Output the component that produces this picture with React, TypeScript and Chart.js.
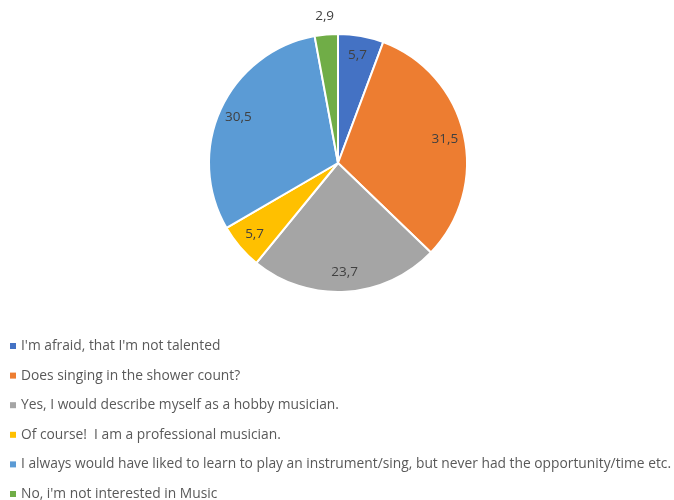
import React, { useEffect, useRef } from "react";
import { Chart, registerables } from "chart.js";

Chart.register(...registerables);

const categories: string[] = [
  "I'm afraid, that I'm not talented",
  "Does singing in the shower count?",
  "Yes, I would describe myself as a hobby musician.",
  "Of course!  I am a professional musician.",
  "I always would have liked to learn to play an instrument/sing, but never had the opportunity/time etc.",
  "No, i'm not interested in Music",
];
const values: number[] = [5.7, 31.5, 23.7, 5.7, 30.5, 2.9];
const valueLabels: string[] = ["5,7", "31,5", "23,7", "5,7", "30,5", "2,9"];
const colors: string[] = ["#4472C4", "#ED7D31", "#A5A5A5", "#FFC000", "#5B9BD5", "#70AD47"];

const FONT = "'Open Sans', sans-serif";

const labelPlugin = {
  id: "sliceLabels",
  afterDatasetsDraw(chart: any) {
    const ctx = chart.ctx;
    const meta = chart.getDatasetMeta(0);
    ctx.save();
    ctx.font = `13.5px ${FONT}`;
    ctx.fillStyle = "#404040";
    ctx.textAlign = "center";
    ctx.textBaseline = "middle";
    meta.data.forEach((arc: any, i: number) => {
      const { x, y, startAngle, endAngle, outerRadius } = arc.getProps(
        ["x", "y", "startAngle", "endAngle", "outerRadius"],
        true
      );
      const mid = (startAngle + endAngle) / 2;
      const v = values[i];
      const r = v < 4 ? outerRadius + 18 : outerRadius * 0.85;
      ctx.fillText(valueLabels[i], x + Math.cos(mid) * r, y + Math.sin(mid) * r);
    });
    ctx.restore();
  },
};

const legendPlugin = {
  id: "customLegend",
  afterDraw(chart: any) {
    const ctx = chart.ctx;
    ctx.save();
    ctx.font = `13.8px ${FONT}`;
    ctx.textBaseline = "middle";
    ctx.textAlign = "left";
    categories.forEach((c, i) => {
      const y = 346 + i * 29.6;
      ctx.fillStyle = colors[i];
      ctx.fillRect(10, y - 3, 6, 6);
      ctx.fillStyle = "#595959";
      ctx.fillText(c, 21, y);
    });
    ctx.restore();
  },
};

export default function App() {
  const ref = useRef<HTMLCanvasElement | null>(null);
  useEffect(() => {
    if (!ref.current) return;
    const chart = new Chart(ref.current, {
      type: "pie",
      data: {
        labels: categories,
        datasets: [
          {
            data: values,
            backgroundColor: colors,
            borderColor: "#ffffff",
            borderWidth: 2,
          },
        ],
      },
      options: {
        animation: false,
        responsive: false,
        devicePixelRatio: 1,
        layout: { padding: { top: 33, bottom: 207, left: 2, right: 0 } },
        plugins: {
          legend: { display: false },
          tooltip: { enabled: false },
        },
      },
      plugins: [labelPlugin, legendPlugin],
    });
    return () => chart.destroy();
  }, []);
  return (
    <div style={{ position: "fixed", left: 0, top: 0, width: 674, height: 500, background: "#fff" }}>
      <canvas ref={ref} width={674} height={500} />
    </div>
  );
}
